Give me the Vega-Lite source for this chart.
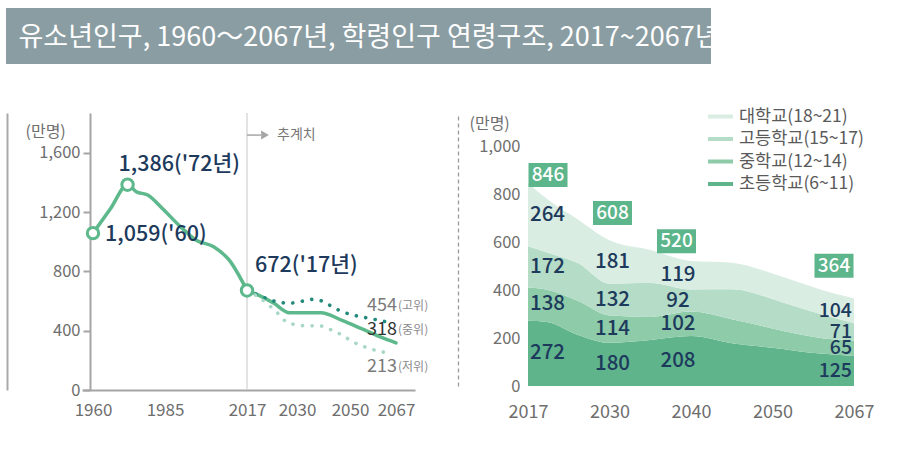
{
  "$schema": "https://vega.github.io/schema/vega-lite/v6.json",
  "background": "white",
  "padding": {"left": 6, "top": 8, "right": 0, "bottom": 0},
  "spacing": 40,
  "columns": 1,
  "align": "none",
  "resolve": {"scale": {"color": "independent"}, "legend": {"color": "independent"}},
  "config": {
    "font": "Noto Sans CJK KR",
    "view": {"stroke": null},
    "axis": {"labelFont": "Noto Sans CJK KR", "titleFont": "Noto Sans CJK KR", "labelColor": "#6e6e6e", "titleColor": "#6e6e6e", "grid": false, "domainColor": "#a5a5a5", "tickColor": "#a5a5a5", "titleFontWeight": "normal"}
  },
  "datasets": {
    "pop": [
      {"series": "실적", "year": 1960, "value": 1059},
      {"series": "실적", "year": 1966, "value": 1222},
      {"series": "실적", "year": 1972, "value": 1386},
      {"series": "실적", "year": 1975, "value": 1339},
      {"series": "실적", "year": 1979, "value": 1316},
      {"series": "실적", "year": 1984, "value": 1227},
      {"series": "실적", "year": 1991, "value": 1103},
      {"series": "실적", "year": 1997, "value": 1013},
      {"series": "실적", "year": 2004, "value": 967},
      {"series": "실적", "year": 2010, "value": 878},
      {"series": "실적", "year": 2017, "value": 672},
      {"series": "중위", "year": 2017, "value": 672},
      {"series": "중위", "year": 2020, "value": 640},
      {"series": "중위", "year": 2024, "value": 585},
      {"series": "중위", "year": 2028, "value": 522},
      {"series": "중위", "year": 2039, "value": 522},
      {"series": "중위", "year": 2047, "value": 470},
      {"series": "중위", "year": 2054, "value": 416},
      {"series": "중위", "year": 2061, "value": 360},
      {"series": "중위", "year": 2067, "value": 318},
      {"series": "고위", "year": 2017, "value": 672},
      {"series": "고위", "year": 2020, "value": 640},
      {"series": "고위", "year": 2023, "value": 608},
      {"series": "고위", "year": 2026, "value": 590},
      {"series": "고위", "year": 2028, "value": 586},
      {"series": "고위", "year": 2031, "value": 596},
      {"series": "고위", "year": 2036, "value": 612},
      {"series": "고위", "year": 2039, "value": 603},
      {"series": "고위", "year": 2045, "value": 545},
      {"series": "고위", "year": 2050, "value": 511},
      {"series": "고위", "year": 2055, "value": 491},
      {"series": "고위", "year": 2059, "value": 477},
      {"series": "고위", "year": 2063, "value": 462},
      {"series": "저위", "year": 2017, "value": 672},
      {"series": "저위", "year": 2020, "value": 628},
      {"series": "저위", "year": 2025, "value": 518},
      {"series": "저위", "year": 2027, "value": 465},
      {"series": "저위", "year": 2030, "value": 439},
      {"series": "저위", "year": 2033, "value": 434},
      {"series": "저위", "year": 2039, "value": 432},
      {"series": "저위", "year": 2043, "value": 405},
      {"series": "저위", "year": 2047, "value": 371},
      {"series": "저위", "year": 2051, "value": 326},
      {"series": "저위", "year": 2056, "value": 288},
      {"series": "저위", "year": 2060, "value": 265},
      {"series": "저위", "year": 2064, "value": 250}
    ],
    "ann": [
      {"year": 1960, "value": 1059, "label": "1,059('60)"},
      {"year": 1972, "value": 1386, "label": "1,386('72년)"},
      {"year": 2017, "value": 672, "label": "672('17년)"}
    ],
    "projlab": [
      {"year": 2067, "value": 454, "num": "454", "tag": "(고위)"},
      {"year": 2067, "value": 318, "num": "318", "tag": "(중위)"},
      {"year": 2067, "value": 213, "num": "213", "tag": "(저위)"}
    ],
    "note": [{"year": 2017, "label": "추계치"}],
    "school": [
      {"year": 2017, "level": "초등학교(6~11)", "rank": 1, "value": 272},
      {"year": 2017, "level": "중학교(12~14)", "rank": 2, "value": 138},
      {"year": 2017, "level": "고등학교(15~17)", "rank": 3, "value": 172},
      {"year": 2017, "level": "대학교(18~21)", "rank": 4, "value": 264},
      {"year": 2020, "level": "초등학교(6~11)", "rank": 1, "value": 267},
      {"year": 2020, "level": "중학교(12~14)", "rank": 2, "value": 134},
      {"year": 2020, "level": "고등학교(15~17)", "rank": 3, "value": 155},
      {"year": 2020, "level": "대학교(18~21)", "rank": 4, "value": 224},
      {"year": 2025, "level": "초등학교(6~11)", "rank": 1, "value": 213},
      {"year": 2025, "level": "중학교(12~14)", "rank": 2, "value": 141},
      {"year": 2025, "level": "고등학교(15~17)", "rank": 3, "value": 157},
      {"year": 2025, "level": "대학교(18~21)", "rank": 4, "value": 182},
      {"year": 2030, "level": "초등학교(6~11)", "rank": 1, "value": 180},
      {"year": 2030, "level": "중학교(12~14)", "rank": 2, "value": 114},
      {"year": 2030, "level": "고등학교(15~17)", "rank": 3, "value": 132},
      {"year": 2030, "level": "대학교(18~21)", "rank": 4, "value": 181},
      {"year": 2035, "level": "초등학교(6~11)", "rank": 1, "value": 192},
      {"year": 2035, "level": "중학교(12~14)", "rank": 2, "value": 96},
      {"year": 2035, "level": "고등학교(15~17)", "rank": 3, "value": 141},
      {"year": 2035, "level": "대학교(18~21)", "rank": 4, "value": 138},
      {"year": 2040, "level": "초등학교(6~11)", "rank": 1, "value": 208},
      {"year": 2040, "level": "중학교(12~14)", "rank": 2, "value": 102},
      {"year": 2040, "level": "고등학교(15~17)", "rank": 3, "value": 92},
      {"year": 2040, "level": "대학교(18~21)", "rank": 4, "value": 119},
      {"year": 2045, "level": "초등학교(6~11)", "rank": 1, "value": 178},
      {"year": 2045, "level": "중학교(12~14)", "rank": 2, "value": 100},
      {"year": 2045, "level": "고등학교(15~17)", "rank": 3, "value": 125},
      {"year": 2045, "level": "대학교(18~21)", "rank": 4, "value": 111},
      {"year": 2050, "level": "초등학교(6~11)", "rank": 1, "value": 159},
      {"year": 2050, "level": "중학교(12~14)", "rank": 2, "value": 81},
      {"year": 2050, "level": "고등학교(15~17)", "rank": 3, "value": 123},
      {"year": 2050, "level": "대학교(18~21)", "rank": 4, "value": 106},
      {"year": 2055, "level": "초등학교(6~11)", "rank": 1, "value": 146},
      {"year": 2055, "level": "중학교(12~14)", "rank": 2, "value": 72},
      {"year": 2055, "level": "고등학교(15~17)", "rank": 3, "value": 112},
      {"year": 2055, "level": "대학교(18~21)", "rank": 4, "value": 105},
      {"year": 2060, "level": "초등학교(6~11)", "rank": 1, "value": 135},
      {"year": 2060, "level": "중학교(12~14)", "rank": 2, "value": 65},
      {"year": 2060, "level": "고등학교(15~17)", "rank": 3, "value": 100},
      {"year": 2060, "level": "대학교(18~21)", "rank": 4, "value": 102},
      {"year": 2067, "level": "초등학교(6~11)", "rank": 1, "value": 125},
      {"year": 2067, "level": "중학교(12~14)", "rank": 2, "value": 65},
      {"year": 2067, "level": "고등학교(15~17)", "rank": 3, "value": 71},
      {"year": 2067, "level": "대학교(18~21)", "rank": 4, "value": 104}
    ],
    "totals": [
      {"year": 2017, "total": 846},
      {"year": 2030, "total": 608},
      {"year": 2040, "total": 520},
      {"year": 2067, "total": 364}
    ]
  },
  "concat": [
    {
      "width": 705,
      "height": 56,
      "view": {"fill": "#8a9da2", "stroke": null},
      "data": {"values": [{"title": "유소년인구, 1960～2067년, 학령인구 연령구조, 2017~2067년"}]},
      "mark": {"type": "text", "align": "left", "baseline": "middle", "dx": -340, "dy": 2, "fontSize": 27, "color": "white"},
      "encoding": {"text": {"field": "title"}}
    },
    {
      "spacing": 29,
      "resolve": {"scale": {"color": "independent"}, "legend": {"color": "independent"}},
      "hconcat": [
        {
          "width": 409,
          "height": 277,
          "resolve": {"axis": {"y": "independent"}},
          "layer": [
            {
              "data": {"name": "ann"},
              "transform": [{"filter": "datum.year == 2017"}],
              "mark": {"type": "rule", "color": "#d0d0d0", "strokeWidth": 1.2},
              "encoding": {"x": {"field": "year", "type": "quantitative"}}
            },
            {
              "data": {"name": "pop"},
              "transform": [{"filter": "datum.series == '실적' || datum.series == '중위'"}],
              "mark": {"type": "line", "color": "#5db88c", "strokeWidth": 3.5, "interpolate": "monotone", "strokeCap": "round"},
              "encoding": {
                "x": {"field": "year", "type": "quantitative",
                  "scale": {"type": "linear", "domain": [1956.2, 1960, 1985, 2017, 2030, 2050, 2067, 2074], "range": [76, 87, 159, 241, 291, 344, 390, 409], "zero": false, "nice": false},
                  "axis": {"values": [1960, 1985, 2017, 2030, 2050, 2067], "format": "d", "title": null, "ticks": false, "domainWidth": 2, "labelFontSize": 17, "labelPadding": 12, "labelFlush": false, "labelOverlap": false}},
                "y": {"field": "value", "type": "quantitative",
                  "scale": {"domain": [0, 1870], "nice": false, "zero": true},
                  "axis": {"offset": -84, "values": [0, 400, 800, 1200, 1600], "format": ",d", "title": "(만명)", "titleAngle": 0, "titleAlign": "left", "titleBaseline": "middle", "titleX": -65, "titleY": 18, "titleFontSize": 16, "domainWidth": 2, "tickSize": 7, "tickWidth": 2, "labelPadding": 3, "labelFontSize": 16.5}},
                "detail": {"field": "series"}
              }
            },
            {
              "data": {"name": "pop"},
              "transform": [{"filter": "datum.series == '고위'"}],
              "mark": {"type": "line", "color": "#21897b", "strokeWidth": 3.6, "strokeDash": [0.1, 9.5], "strokeCap": "round", "interpolate": "monotone"},
              "encoding": {
                "x": {"field": "year", "type": "quantitative"},
                "y": {"field": "value", "type": "quantitative", "axis": {"orient": "left", "offset": -1, "labels": false, "ticks": false, "title": null, "domainColor": "#a9a9a9", "domainWidth": 2}}
              }
            },
            {
              "data": {"name": "pop"},
              "transform": [{"filter": "datum.series == '저위'"}],
              "mark": {"type": "line", "color": "#a8d7c3", "strokeWidth": 3.6, "strokeDash": [0.1, 9.5], "strokeCap": "round", "interpolate": "monotone"},
              "encoding": {
                "x": {"field": "year", "type": "quantitative"},
                "y": {"field": "value", "type": "quantitative", "axis": null}
              }
            },
            {
              "data": {"name": "note"},
              "encoding": {
                "x": {"field": "year", "type": "quantitative"},
                "y": {"datum": 1721, "type": "quantitative", "axis": null}
              },
              "layer": [
                {"mark": {"type": "rule", "color": "#a6a6a6", "strokeWidth": 1.5}, "encoding": {"x2": {"datum": 2020.6}}},
                {"mark": {"type": "point", "shape": "triangle-right", "filled": true, "color": "#a6a6a6", "size": 80, "opacity": 1, "xOffset": 18}},
                {"mark": {"type": "text", "align": "left", "baseline": "middle", "dx": 30, "fontSize": 14, "color": "#777777"}, "encoding": {"text": {"field": "label"}}}
              ]
            },
            {
              "data": {"name": "ann"},
              "encoding": {
                "x": {"field": "year", "type": "quantitative"},
                "y": {"field": "value", "type": "quantitative", "axis": null},
                "text": {"field": "label"}
              },
              "layer": [
                {"mark": {"type": "point", "shape": "circle", "filled": true, "fill": "white", "stroke": "#5db88c", "strokeWidth": 3, "size": 130, "opacity": 1}},
                {"transform": [{"filter": "datum.year == 1960"}], "mark": {"type": "text", "align": "left", "baseline": "middle", "dx": 12, "dy": 2, "fontSize": 21.5, "fontWeight": 500, "color": "#1d3a5c"}},
                {"transform": [{"filter": "datum.year == 1972"}], "mark": {"type": "text", "align": "left", "baseline": "middle", "dx": -9, "dy": -20, "fontSize": 21.5, "fontWeight": 500, "color": "#1d3a5c"}},
                {"transform": [{"filter": "datum.year == 2017"}], "mark": {"type": "text", "align": "left", "baseline": "middle", "dx": 8, "dy": -24, "fontSize": 21.5, "fontWeight": 500, "color": "#1d3a5c"}}
              ]
            },
            {
              "data": {"name": "projlab"},
              "encoding": {
                "x": {"field": "year", "type": "quantitative"},
                "y": {"field": "value", "type": "quantitative", "axis": null}
              },
              "layer": [
                {"transform": [{"filter": "datum.num == '454'"}], "mark": {"type": "text", "align": "right", "baseline": "middle", "dx": 1, "dy": -17, "fontSize": 18, "color": "#7a7a7a"}, "encoding": {"text": {"field": "num"}}},
                {"transform": [{"filter": "datum.num == '454'"}], "mark": {"type": "text", "align": "left", "baseline": "middle", "dx": 2, "dy": -17, "fontSize": 12, "color": "#8a8a8a"}, "encoding": {"text": {"field": "tag"}}},
                {"transform": [{"filter": "datum.num == '318'"}], "mark": {"type": "text", "align": "right", "baseline": "middle", "dx": 1, "dy": -13, "fontSize": 18, "color": "#333333"}, "encoding": {"text": {"field": "num"}}},
                {"transform": [{"filter": "datum.num == '318'"}], "mark": {"type": "text", "align": "left", "baseline": "middle", "dx": 2, "dy": -13, "fontSize": 12, "color": "#8a8a8a"}, "encoding": {"text": {"field": "tag"}}},
                {"transform": [{"filter": "datum.num == '213'"}], "mark": {"type": "text", "align": "right", "baseline": "middle", "dx": 1, "dy": 9, "fontSize": 18, "color": "#7a7a7a"}, "encoding": {"text": {"field": "num"}}},
                {"transform": [{"filter": "datum.num == '213'"}], "mark": {"type": "text", "align": "left", "baseline": "middle", "dx": 2, "dy": 9, "fontSize": 12, "color": "#8a8a8a"}, "encoding": {"text": {"field": "tag"}}}
              ]
            }
          ]
        },
        {
          "width": 326,
          "height": 273,
          "resolve": {"axis": {"y": "independent"}},
          "layer": [
            {
              "data": {"name": "school"},
              "mark": {"type": "area", "interpolate": "monotone"},
              "encoding": {
                "x": {"field": "year", "type": "quantitative",
                  "scale": {"type": "linear", "domain": [2017, 2030, 2040, 2050, 2067], "range": [0, 81.5, 163, 244.5, 326], "zero": false, "nice": false},
                  "axis": {"values": [2017, 2030, 2040, 2050, 2067], "format": "d", "title": null, "domain": false, "ticks": false, "labelFontSize": 18, "labelPadding": 17, "labelFlush": false, "labelOverlap": false}},
                "y": {"field": "value", "type": "quantitative", "stack": "zero",
                  "scale": {"domain": [0, 1137.5], "nice": false, "zero": true},
                  "axis": {"values": [0, 200, 400, 600, 800, 1000], "format": ",d", "title": "(만명)", "titleAngle": 0, "titleAlign": "left", "titleBaseline": "middle", "titleX": -59, "titleY": 10, "titleFontSize": 16, "domain": false, "ticks": false, "labelPadding": 8, "labelFontSize": 16.5}},
                "color": {"field": "level", "type": "nominal",
                  "scale": {"domain": ["대학교(18~21)", "고등학교(15~17)", "중학교(12~14)", "초등학교(6~11)"], "range": ["#d9ede2", "#b4dcc7", "#8ecba9", "#5fb48c"]},
                  "legend": {"orient": "none", "legendX": 180, "legendY": -9, "title": null, "symbolType": "M-1,-0.16H1V0.16H-1Z", "symbolSize": 625, "symbolStrokeWidth": 0, "symbolOpacity": 1, "labelFontSize": 17.5, "labelColor": "#5a5a5a", "rowPadding": 1.5, "labelOffset": 6}},
                "order": {"field": "rank", "type": "quantitative"}
              }
            },
            {
              "data": {"name": "school"},
              "transform": [
                {"window": [{"op": "sum", "field": "value", "as": "cum"}], "groupby": ["year"], "sort": [{"field": "rank", "order": "ascending"}], "frame": [null, 0]},
                {"calculate": "datum.cum - datum.value / 2", "as": "mid"},
                {"filter": "datum.year == 2017"}
              ],
              "mark": {"type": "text", "align": "left", "baseline": "middle", "dx": 2, "fontSize": 20.5, "fontWeight": 500, "color": "#1d3a5c"},
              "encoding": {
                "x": {"field": "year", "type": "quantitative"},
                "y": {"field": "mid", "type": "quantitative", "axis": {"orient": "left", "offset": 70, "labels": false, "ticks": false, "title": null, "domain": true, "domainDash": [4, 3], "domainColor": "#9a9a9a", "domainWidth": 1.3}},
                "text": {"field": "value", "type": "quantitative"}
              }
            },
            {
              "data": {"name": "school"},
              "transform": [
                {"window": [{"op": "sum", "field": "value", "as": "cum"}], "groupby": ["year"], "sort": [{"field": "rank", "order": "ascending"}], "frame": [null, 0]},
                {"calculate": "datum.cum - datum.value / 2", "as": "mid"},
                {"filter": "datum.year == 2030"}
              ],
              "mark": {"type": "text", "align": "center", "baseline": "middle", "dx": 3, "fontSize": 20.5, "fontWeight": 500, "color": "#1d3a5c"},
              "encoding": {
                "x": {"field": "year", "type": "quantitative"},
                "y": {"field": "mid", "type": "quantitative", "axis": null},
                "text": {"field": "value", "type": "quantitative"}
              }
            },
            {
              "data": {"name": "school"},
              "transform": [
                {"window": [{"op": "sum", "field": "value", "as": "cum"}], "groupby": ["year"], "sort": [{"field": "rank", "order": "ascending"}], "frame": [null, 0]},
                {"calculate": "datum.cum - datum.value / 2", "as": "mid"},
                {"filter": "datum.year == 2040"}
              ],
              "mark": {"type": "text", "align": "center", "baseline": "middle", "dx": -13, "fontSize": 20.5, "fontWeight": 500, "color": "#1d3a5c"},
              "encoding": {
                "x": {"field": "year", "type": "quantitative"},
                "y": {"field": "mid", "type": "quantitative", "axis": null},
                "text": {"field": "value", "type": "quantitative"}
              }
            },
            {
              "data": {"name": "school"},
              "transform": [
                {"window": [{"op": "sum", "field": "value", "as": "cum"}], "groupby": ["year"], "sort": [{"field": "rank", "order": "ascending"}], "frame": [null, 0]},
                {"calculate": "datum.cum - datum.value / 2", "as": "mid"},
                {"filter": "datum.year == 2067"}
              ],
              "mark": {"type": "text", "align": "right", "baseline": "middle", "dx": -2, "fontSize": 19.5, "fontWeight": 500, "color": "#1d3a5c"},
              "encoding": {
                "x": {"field": "year", "type": "quantitative"},
                "y": {"field": "mid", "type": "quantitative", "axis": null},
                "text": {"field": "value", "type": "quantitative"}
              }
            },
            {
              "data": {"name": "totals"},
              "encoding": {
                "x": {"field": "year", "type": "quantitative"},
                "y": {"field": "total", "type": "quantitative", "axis": null},
                "text": {"field": "total", "type": "quantitative"}
              },
              "layer": [
                {"transform": [{"filter": "datum.year == 2017"}], "mark": {"type": "point", "shape": "M-1,-0.615H1V0.615H-1Z", "size": 1521, "filled": true, "color": "#5db58b", "opacity": 1, "xOffset": 20, "yOffset": -8}},
                {"transform": [{"filter": "datum.year == 2017"}], "mark": {"type": "text", "align": "center", "baseline": "middle", "dx": 20, "dy": -8, "fontSize": 19, "fontWeight": 500, "color": "white"}},
                {"transform": [{"filter": "datum.year == 2030"}], "mark": {"type": "point", "shape": "M-1,-0.615H1V0.615H-1Z", "size": 1521, "filled": true, "color": "#5db58b", "opacity": 1, "xOffset": 3, "yOffset": -27}},
                {"transform": [{"filter": "datum.year == 2030"}], "mark": {"type": "text", "align": "center", "baseline": "middle", "dx": 3, "dy": -27, "fontSize": 19, "fontWeight": 500, "color": "white"}},
                {"transform": [{"filter": "datum.year == 2040"}], "mark": {"type": "point", "shape": "M-1,-0.615H1V0.615H-1Z", "size": 1521, "filled": true, "color": "#5db58b", "opacity": 1, "xOffset": -14.5, "yOffset": -20}},
                {"transform": [{"filter": "datum.year == 2040"}], "mark": {"type": "text", "align": "center", "baseline": "middle", "dx": -14.5, "dy": -20, "fontSize": 19, "fontWeight": 500, "color": "white"}},
                {"transform": [{"filter": "datum.year == 2067"}], "mark": {"type": "point", "shape": "M-1,-0.615H1V0.615H-1Z", "size": 1521, "filled": true, "color": "#5db58b", "opacity": 1, "xOffset": -20, "yOffset": -33}},
                {"transform": [{"filter": "datum.year == 2067"}], "mark": {"type": "text", "align": "center", "baseline": "middle", "dx": -20, "dy": -33, "fontSize": 19, "fontWeight": 500, "color": "white"}}
              ]
            }
          ]
        }
      ]
    }
  ]
}
